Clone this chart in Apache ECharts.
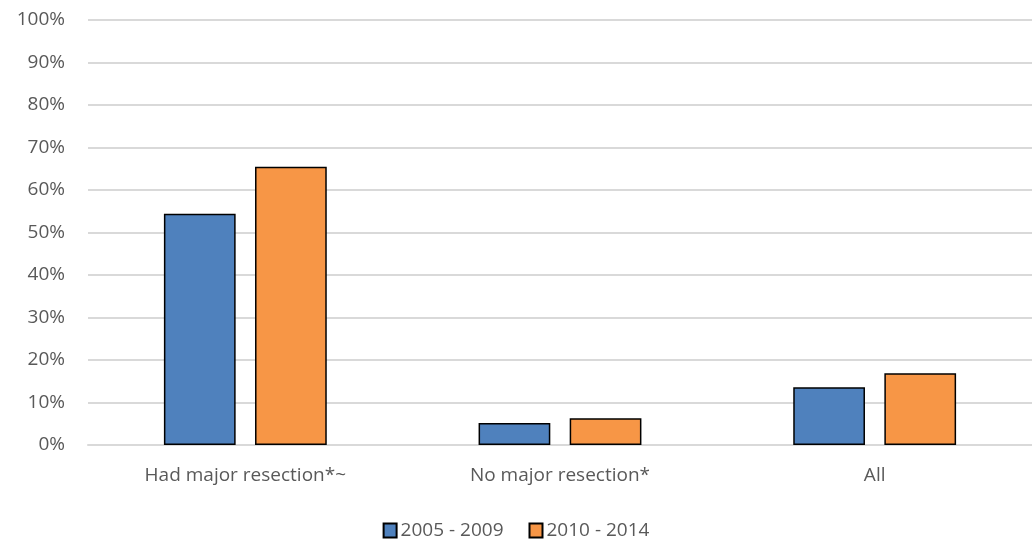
<!DOCTYPE html>
<html>
<head>
<meta charset="utf-8">
<script src="https://cdn.jsdelivr.net/npm/echarts@6/dist/echarts.min.js"></script>
<style>
  html, body { margin: 0; padding: 0; background: #fff; }
  #chart { width: 1032px; height: 539px; }
</style>
</head>
<body>
<div id="chart"></div>
<script>
const categories = ['Had major resection*~', 'No major resection*', 'All']
const seriesNames = ['2005 - 2009', '2010 - 2014']
const values2005 = [54.4, 5.2, 13.6]
const values2010 = [65.5, 6.3, 16.9]
const yTicks = [0, 10, 20, 30, 40, 50, 60, 70, 80, 90, 100]

const chart = echarts.init(document.getElementById('chart'))
const fontFamily = 'Open Sans, Noto Sans, sans-serif'
const option = {
  animation: false,
  textStyle: { fontFamily: fontFamily },
  grid: { left: 88, right: 0, top: 20, bottom: 94 },
  legend: {
    bottom: -6,
    left: 'center',
    itemWidth: 13,
    itemHeight: 14,
    itemGap: 25,
    icon: 'rect',
    textStyle: { color: '#595959', fontSize: 19, fontFamily: fontFamily, padding: [0, 0, 0, -1] },
    data: seriesNames
  },
  xAxis: {
    type: 'category',
    data: categories,
    axisLine: { show: true, lineStyle: { color: '#d9d9d9', width: 2 } },
    axisTick: { show: false },
    axisLabel: { color: '#595959', fontSize: 19, margin: 21 }
  },
  yAxis: {
    type: 'value',
    min: yTicks[0],
    max: yTicks[yTicks.length - 1],
    interval: 10,
    axisLine: { show: false },
    axisTick: { show: false },
    splitLine: { lineStyle: { color: '#d9d9d9', width: 2 } },
    axisLabel: { color: '#595959', fontSize: 19, margin: 23, formatter: '{value}%' }
  },
  series: [
    {
      name: seriesNames[0],
      type: 'bar',
      data: values2005,
      barWidth: '22.8%',
      barGap: '27%',
      itemStyle: { color: '#4F81BD', borderColor: '#000', borderWidth: 1.5 }
    },
    {
      name: seriesNames[1],
      type: 'bar',
      data: values2010,
      barWidth: '22.8%',
      itemStyle: { color: '#F79646', borderColor: '#000', borderWidth: 1.5 }
    }
  ]
}
chart.setOption(option)
</script>
</body>
</html>
